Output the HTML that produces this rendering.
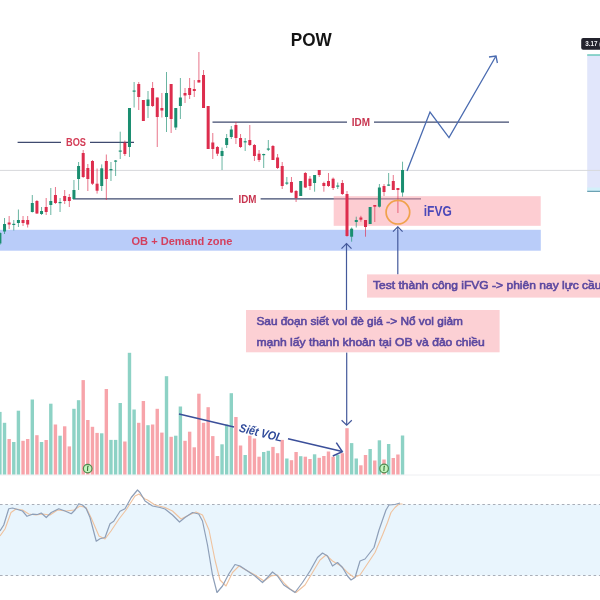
<!DOCTYPE html>
<html><head><meta charset="utf-8"><title>POW</title>
<style>
html,body{margin:0;padding:0;background:#ffffff;}
body{width:600px;height:600px;overflow:hidden;}
svg{display:block;font-family:"Liberation Sans",sans-serif;filter:blur(0.3px);}
</style></head>
<body>
<svg width="600" height="600" viewBox="0 0 600 600">
<rect width="600" height="600" fill="#ffffff"/>
<rect x="0" y="504.5" width="600" height="71" fill="#e9f5fd"/>
<line x1="0" y1="504.5" x2="600" y2="504.5" stroke="#a9aeb8" stroke-width="1" stroke-dasharray="2.6 2.7"/>
<line x1="0" y1="575.5" x2="600" y2="575.5" stroke="#a9aeb8" stroke-width="1" stroke-dasharray="2.6 2.7"/>
<line x1="0" y1="475" x2="600" y2="475" stroke="#eeeff2" stroke-width="1"/>
<rect x="587.2" y="55" width="12.8" height="136.5" fill="#e1e6fb"/>
<line x1="587.2" y1="55" x2="600" y2="55" stroke="#62c5b6" stroke-width="1.4"/>
<rect x="587.2" y="187.5" width="12.8" height="3.5" fill="#d3f0fa"/>
<line x1="587.2" y1="191.3" x2="600" y2="191.3" stroke="#4c8ea0" stroke-width="1"/>
<rect x="581.2" y="38" width="22" height="11.8" rx="2" fill="#23232d"/>
<text x="585.3" y="46.1" font-size="6.3" font-weight="bold" fill="#f4f4f6">3.17 (</text>
<line x1="0" y1="170.4" x2="600" y2="170.4" stroke="#d7d8dc" stroke-width="1"/>
<rect x="0" y="229.8" width="540.8" height="20.9" fill="#b9ccf9"/>
<line x1="17.6" y1="142.4" x2="61" y2="142.4" stroke="#3f4a6f" stroke-width="1.1"/>
<line x1="90" y1="142.4" x2="134" y2="142.4" stroke="#3f4a6f" stroke-width="1.1"/>
<line x1="212.5" y1="122.2" x2="347" y2="122.2" stroke="#3f4a6f" stroke-width="1.2"/>
<line x1="374" y1="122.2" x2="509" y2="122.2" stroke="#3f4a6f" stroke-width="1.2"/>
<line x1="73" y1="198.9" x2="233" y2="198.9" stroke="#3f4a6f" stroke-width="1.2"/>
<line x1="260.6" y1="198.9" x2="421" y2="198.9" stroke="#3f4a6f" stroke-width="1.2"/>
<rect x="333.7" y="196.2" width="207" height="29.6" fill="#fb9ba5" fill-opacity="0.5"/>
<line x1="-0.1" y1="232" x2="-0.1" y2="245" stroke="#1a8e70" stroke-width="1" stroke-opacity="0.65"/>
<rect x="-1.6" y="233" width="3" height="10.5" fill="#1a8e70"/>
<line x1="4.53" y1="218" x2="4.53" y2="234" stroke="#1a8e70" stroke-width="1" stroke-opacity="0.65"/>
<rect x="3.03" y="224" width="3" height="7.5" fill="#1a8e70"/>
<line x1="9.16" y1="216" x2="9.16" y2="229" stroke="#dd2d4d" stroke-width="1" stroke-opacity="0.65"/>
<rect x="7.66" y="222.5" width="3" height="2" fill="#dd2d4d"/>
<line x1="13.78" y1="220" x2="13.78" y2="230.5" stroke="#1a8e70" stroke-width="1" stroke-opacity="0.65"/>
<rect x="12.28" y="223.8" width="3" height="1.2" fill="#1a8e70"/>
<line x1="18.41" y1="209.5" x2="18.41" y2="227" stroke="#1a8e70" stroke-width="1" stroke-opacity="0.65"/>
<rect x="16.91" y="220" width="3" height="3" fill="#1a8e70"/>
<line x1="23.04" y1="216" x2="23.04" y2="226" stroke="#dd2d4d" stroke-width="1" stroke-opacity="0.65"/>
<rect x="21.54" y="220" width="3" height="3" fill="#dd2d4d"/>
<line x1="27.67" y1="216" x2="27.67" y2="227.5" stroke="#dd2d4d" stroke-width="1" stroke-opacity="0.65"/>
<rect x="26.17" y="220" width="3" height="4.5" fill="#dd2d4d"/>
<line x1="32.3" y1="195" x2="32.3" y2="212.5" stroke="#1a8e70" stroke-width="1" stroke-opacity="0.65"/>
<rect x="30.8" y="203" width="3" height="9" fill="#1a8e70"/>
<line x1="36.92" y1="200" x2="36.92" y2="214" stroke="#dd2d4d" stroke-width="1" stroke-opacity="0.65"/>
<rect x="35.42" y="201" width="3" height="12.5" fill="#dd2d4d"/>
<line x1="41.55" y1="207" x2="41.55" y2="215" stroke="#1a8e70" stroke-width="1" stroke-opacity="0.65"/>
<rect x="40.05" y="211" width="3" height="3" fill="#1a8e70"/>
<line x1="46.18" y1="198" x2="46.18" y2="215" stroke="#dd2d4d" stroke-width="1" stroke-opacity="0.65"/>
<rect x="44.68" y="207" width="3" height="5" fill="#dd2d4d"/>
<line x1="50.81" y1="188" x2="50.81" y2="215" stroke="#1a8e70" stroke-width="1" stroke-opacity="0.65"/>
<rect x="49.31" y="201" width="3" height="4" fill="#1a8e70"/>
<line x1="55.44" y1="187" x2="55.44" y2="204" stroke="#dd2d4d" stroke-width="1" stroke-opacity="0.65"/>
<rect x="53.94" y="195" width="3" height="8" fill="#dd2d4d"/>
<line x1="60.06" y1="198" x2="60.06" y2="212" stroke="#1a8e70" stroke-width="1" stroke-opacity="0.65"/>
<rect x="58.56" y="202" width="3" height="1.2" fill="#1a8e70"/>
<line x1="64.69" y1="190" x2="64.69" y2="204" stroke="#dd2d4d" stroke-width="1" stroke-opacity="0.65"/>
<rect x="63.19" y="196" width="3" height="5" fill="#dd2d4d"/>
<line x1="69.32" y1="194" x2="69.32" y2="207" stroke="#dd2d4d" stroke-width="1" stroke-opacity="0.65"/>
<rect x="67.82" y="197" width="3" height="4" fill="#dd2d4d"/>
<line x1="73.95" y1="180" x2="73.95" y2="199" stroke="#1a8e70" stroke-width="1" stroke-opacity="0.65"/>
<rect x="72.45" y="190" width="3" height="9" fill="#1a8e70"/>
<line x1="78.58" y1="162" x2="78.58" y2="190" stroke="#1a8e70" stroke-width="1" stroke-opacity="0.65"/>
<rect x="77.08" y="166" width="3" height="13" fill="#1a8e70"/>
<line x1="83.2" y1="150" x2="83.2" y2="178" stroke="#dd2d4d" stroke-width="1" stroke-opacity="0.65"/>
<rect x="81.7" y="153" width="3" height="24" fill="#dd2d4d"/>
<line x1="87.83" y1="164" x2="87.83" y2="191" stroke="#dd2d4d" stroke-width="1" stroke-opacity="0.65"/>
<rect x="86.33" y="168" width="3" height="11" fill="#dd2d4d"/>
<line x1="92.46" y1="160" x2="92.46" y2="185" stroke="#dd2d4d" stroke-width="1" stroke-opacity="0.65"/>
<rect x="90.96" y="161" width="3" height="22.7" fill="#dd2d4d"/>
<line x1="97.09" y1="168.5" x2="97.09" y2="193.6" stroke="#dd2d4d" stroke-width="1" stroke-opacity="0.65"/>
<rect x="95.59" y="183.7" width="3" height="7" fill="#dd2d4d"/>
<line x1="101.72" y1="164.4" x2="101.72" y2="191" stroke="#1a8e70" stroke-width="1" stroke-opacity="0.65"/>
<rect x="100.22" y="168.3" width="3" height="17.7" fill="#1a8e70"/>
<line x1="106.34" y1="154.5" x2="106.34" y2="200" stroke="#dd2d4d" stroke-width="1" stroke-opacity="0.65"/>
<rect x="104.84" y="161" width="3" height="18" fill="#dd2d4d"/>
<line x1="110.97" y1="162" x2="110.97" y2="181" stroke="#1a8e70" stroke-width="1" stroke-opacity="0.65"/>
<rect x="109.47" y="169" width="3" height="1.3" fill="#1a8e70"/>
<line x1="115.6" y1="160" x2="115.6" y2="176" stroke="#1a8e70" stroke-width="1" stroke-opacity="0.65"/>
<rect x="114.1" y="160.5" width="3" height="1.2" fill="#1a8e70"/>
<line x1="120.23" y1="131.7" x2="120.23" y2="159" stroke="#1a8e70" stroke-width="1" stroke-opacity="0.65"/>
<rect x="118.73" y="150.5" width="3" height="1.2" fill="#1a8e70"/>
<line x1="124.86" y1="140.5" x2="124.86" y2="156" stroke="#dd2d4d" stroke-width="1" stroke-opacity="0.65"/>
<rect x="123.36" y="142.8" width="3" height="11.2" fill="#dd2d4d"/>
<line x1="129.48" y1="108" x2="129.48" y2="157" stroke="#1a8e70" stroke-width="1" stroke-opacity="0.65"/>
<rect x="127.98" y="108" width="3" height="39" fill="#1a8e70"/>
<line x1="134.11" y1="82" x2="134.11" y2="107.5" stroke="#1a8e70" stroke-width="1" stroke-opacity="0.65"/>
<rect x="132.61" y="90.5" width="3" height="1.2" fill="#1a8e70"/>
<line x1="138.74" y1="82" x2="138.74" y2="110" stroke="#dd2d4d" stroke-width="1" stroke-opacity="0.65"/>
<rect x="137.24" y="84" width="3" height="13" fill="#dd2d4d"/>
<line x1="143.37" y1="100" x2="143.37" y2="121" stroke="#dd2d4d" stroke-width="1" stroke-opacity="0.65"/>
<rect x="141.87" y="100" width="3" height="21" fill="#dd2d4d"/>
<line x1="148" y1="91" x2="148" y2="118" stroke="#1a8e70" stroke-width="1" stroke-opacity="0.65"/>
<rect x="146.5" y="99.5" width="3" height="6.5" fill="#1a8e70"/>
<line x1="152.62" y1="82" x2="152.62" y2="107" stroke="#dd2d4d" stroke-width="1" stroke-opacity="0.65"/>
<rect x="151.12" y="88" width="3" height="18" fill="#dd2d4d"/>
<line x1="157.25" y1="97.5" x2="157.25" y2="147" stroke="#dd2d4d" stroke-width="1" stroke-opacity="0.65"/>
<rect x="155.75" y="97.5" width="3" height="19.5" fill="#dd2d4d"/>
<line x1="161.88" y1="93" x2="161.88" y2="117.5" stroke="#dd2d4d" stroke-width="1" stroke-opacity="0.65"/>
<rect x="160.38" y="108" width="3" height="2.5" fill="#dd2d4d"/>
<line x1="166.51" y1="72" x2="166.51" y2="132" stroke="#1a8e70" stroke-width="1" stroke-opacity="0.65"/>
<rect x="165.01" y="93" width="3" height="24" fill="#1a8e70"/>
<line x1="171.14" y1="84" x2="171.14" y2="133" stroke="#dd2d4d" stroke-width="1" stroke-opacity="0.65"/>
<rect x="169.64" y="84" width="3" height="35" fill="#dd2d4d"/>
<line x1="175.76" y1="108" x2="175.76" y2="130" stroke="#1a8e70" stroke-width="1" stroke-opacity="0.65"/>
<rect x="174.26" y="108" width="3" height="19.5" fill="#1a8e70"/>
<line x1="180.39" y1="78" x2="180.39" y2="119" stroke="#1a8e70" stroke-width="1" stroke-opacity="0.65"/>
<rect x="178.89" y="97.5" width="3" height="8.5" fill="#1a8e70"/>
<line x1="185.02" y1="88" x2="185.02" y2="103" stroke="#dd2d4d" stroke-width="1" stroke-opacity="0.65"/>
<rect x="183.52" y="93" width="3" height="2.5" fill="#dd2d4d"/>
<line x1="189.65" y1="78" x2="189.65" y2="99" stroke="#dd2d4d" stroke-width="1" stroke-opacity="0.65"/>
<rect x="188.15" y="88" width="3" height="7" fill="#dd2d4d"/>
<line x1="194.28" y1="80" x2="194.28" y2="97" stroke="#dd2d4d" stroke-width="1" stroke-opacity="0.65"/>
<rect x="192.78" y="89" width="3" height="2" fill="#dd2d4d"/>
<line x1="198.9" y1="52" x2="198.9" y2="82.5" stroke="#dd2d4d" stroke-width="1" stroke-opacity="0.65"/>
<rect x="197.4" y="80" width="3" height="2.5" fill="#dd2d4d"/>
<line x1="203.53" y1="70" x2="203.53" y2="108" stroke="#dd2d4d" stroke-width="1" stroke-opacity="0.65"/>
<rect x="202.03" y="75" width="3" height="33" fill="#dd2d4d"/>
<line x1="208.16" y1="106" x2="208.16" y2="149" stroke="#dd2d4d" stroke-width="1" stroke-opacity="0.65"/>
<rect x="206.66" y="106" width="3" height="43" fill="#dd2d4d"/>
<line x1="212.79" y1="133" x2="212.79" y2="159" stroke="#dd2d4d" stroke-width="1" stroke-opacity="0.65"/>
<rect x="211.29" y="142.5" width="3" height="6.5" fill="#dd2d4d"/>
<line x1="217.42" y1="146" x2="217.42" y2="156" stroke="#dd2d4d" stroke-width="1" stroke-opacity="0.65"/>
<rect x="215.92" y="147" width="3" height="6.7" fill="#dd2d4d"/>
<line x1="222.04" y1="147.5" x2="222.04" y2="170" stroke="#1a8e70" stroke-width="1" stroke-opacity="0.65"/>
<rect x="220.54" y="151" width="3" height="5" fill="#1a8e70"/>
<line x1="226.67" y1="134" x2="226.67" y2="148" stroke="#1a8e70" stroke-width="1" stroke-opacity="0.65"/>
<rect x="225.17" y="138" width="3" height="7" fill="#1a8e70"/>
<line x1="231.3" y1="126" x2="231.3" y2="139" stroke="#1a8e70" stroke-width="1" stroke-opacity="0.65"/>
<rect x="229.8" y="129.5" width="3" height="7.5" fill="#1a8e70"/>
<line x1="235.93" y1="122" x2="235.93" y2="144" stroke="#dd2d4d" stroke-width="1" stroke-opacity="0.65"/>
<rect x="234.43" y="125" width="3" height="13" fill="#dd2d4d"/>
<line x1="240.56" y1="134" x2="240.56" y2="148" stroke="#dd2d4d" stroke-width="1" stroke-opacity="0.65"/>
<rect x="239.06" y="138" width="3" height="9" fill="#dd2d4d"/>
<line x1="245.18" y1="138" x2="245.18" y2="151" stroke="#1a8e70" stroke-width="1" stroke-opacity="0.65"/>
<rect x="243.68" y="141.2" width="3" height="1.2" fill="#1a8e70"/>
<line x1="249.81" y1="125" x2="249.81" y2="146" stroke="#dd2d4d" stroke-width="1" stroke-opacity="0.65"/>
<rect x="248.31" y="140" width="3" height="5" fill="#dd2d4d"/>
<line x1="254.44" y1="144" x2="254.44" y2="161" stroke="#dd2d4d" stroke-width="1" stroke-opacity="0.65"/>
<rect x="252.94" y="145" width="3" height="11" fill="#dd2d4d"/>
<line x1="259.07" y1="150" x2="259.07" y2="162" stroke="#dd2d4d" stroke-width="1" stroke-opacity="0.65"/>
<rect x="257.57" y="153.7" width="3" height="6.3" fill="#dd2d4d"/>
<line x1="263.7" y1="153.7" x2="263.7" y2="168" stroke="#1a8e70" stroke-width="1" stroke-opacity="0.65"/>
<rect x="262.2" y="154" width="3" height="1.2" fill="#1a8e70"/>
<line x1="268.32" y1="140" x2="268.32" y2="151" stroke="#1a8e70" stroke-width="1" stroke-opacity="0.65"/>
<rect x="266.82" y="148.5" width="3" height="1.2" fill="#1a8e70"/>
<line x1="272.95" y1="145" x2="272.95" y2="160" stroke="#dd2d4d" stroke-width="1" stroke-opacity="0.65"/>
<rect x="271.45" y="146" width="3" height="14" fill="#dd2d4d"/>
<line x1="277.58" y1="154" x2="277.58" y2="169" stroke="#dd2d4d" stroke-width="1" stroke-opacity="0.65"/>
<rect x="276.08" y="157.5" width="3" height="10.5" fill="#dd2d4d"/>
<line x1="282.21" y1="162" x2="282.21" y2="189" stroke="#dd2d4d" stroke-width="1" stroke-opacity="0.65"/>
<rect x="280.71" y="166" width="3" height="20" fill="#dd2d4d"/>
<line x1="286.84" y1="177" x2="286.84" y2="185" stroke="#1a8e70" stroke-width="1" stroke-opacity="0.65"/>
<rect x="285.34" y="182.5" width="3" height="1.2" fill="#1a8e70"/>
<line x1="291.46" y1="177" x2="291.46" y2="193" stroke="#dd2d4d" stroke-width="1" stroke-opacity="0.65"/>
<rect x="289.96" y="182" width="3" height="10.5" fill="#dd2d4d"/>
<line x1="296.09" y1="190" x2="296.09" y2="202" stroke="#dd2d4d" stroke-width="1" stroke-opacity="0.65"/>
<rect x="294.59" y="191" width="3" height="7" fill="#dd2d4d"/>
<line x1="300.72" y1="181" x2="300.72" y2="196" stroke="#1a8e70" stroke-width="1" stroke-opacity="0.65"/>
<rect x="299.22" y="181" width="3" height="15" fill="#1a8e70"/>
<line x1="305.35" y1="172" x2="305.35" y2="188" stroke="#dd2d4d" stroke-width="1" stroke-opacity="0.65"/>
<rect x="303.85" y="173" width="3" height="14.5" fill="#dd2d4d"/>
<line x1="309.98" y1="176" x2="309.98" y2="190" stroke="#dd2d4d" stroke-width="1" stroke-opacity="0.65"/>
<rect x="308.48" y="178.7" width="3" height="7.3" fill="#dd2d4d"/>
<line x1="314.6" y1="175" x2="314.6" y2="191.7" stroke="#1a8e70" stroke-width="1" stroke-opacity="0.65"/>
<rect x="313.1" y="175" width="3" height="8" fill="#1a8e70"/>
<line x1="319.23" y1="170" x2="319.23" y2="177" stroke="#dd2d4d" stroke-width="1" stroke-opacity="0.65"/>
<rect x="317.73" y="170" width="3" height="5" fill="#dd2d4d"/>
<line x1="323.86" y1="181.7" x2="323.86" y2="191.7" stroke="#dd2d4d" stroke-width="1" stroke-opacity="0.65"/>
<rect x="322.36" y="183" width="3" height="3" fill="#dd2d4d"/>
<line x1="328.49" y1="173" x2="328.49" y2="187" stroke="#dd2d4d" stroke-width="1" stroke-opacity="0.65"/>
<rect x="326.99" y="181" width="3" height="5" fill="#dd2d4d"/>
<line x1="333.12" y1="177.5" x2="333.12" y2="190" stroke="#dd2d4d" stroke-width="1" stroke-opacity="0.65"/>
<rect x="331.62" y="178.7" width="3" height="9.3" fill="#dd2d4d"/>
<line x1="337.74" y1="182.5" x2="337.74" y2="189" stroke="#1a8e70" stroke-width="1" stroke-opacity="0.65"/>
<rect x="336.24" y="185.5" width="3" height="1.2" fill="#1a8e70"/>
<line x1="342.37" y1="180" x2="342.37" y2="195" stroke="#dd2d4d" stroke-width="1" stroke-opacity="0.65"/>
<rect x="340.87" y="183" width="3" height="11" fill="#dd2d4d"/>
<line x1="347" y1="191" x2="347" y2="236.7" stroke="#dd2d4d" stroke-width="1" stroke-opacity="0.65"/>
<rect x="345.5" y="194" width="3" height="42" fill="#dd2d4d"/>
<line x1="351.63" y1="227.5" x2="351.63" y2="241.7" stroke="#1a8e70" stroke-width="1" stroke-opacity="0.65"/>
<rect x="350.13" y="228.7" width="3" height="8" fill="#1a8e70"/>
<line x1="356.26" y1="216.7" x2="356.26" y2="227.5" stroke="#1a8e70" stroke-width="1" stroke-opacity="0.65"/>
<rect x="354.76" y="220" width="3" height="2" fill="#1a8e70"/>
<line x1="360.88" y1="215.8" x2="360.88" y2="221.7" stroke="#dd2d4d" stroke-width="1" stroke-opacity="0.65"/>
<rect x="359.38" y="217.5" width="3" height="2.2" fill="#dd2d4d"/>
<line x1="365.51" y1="220" x2="365.51" y2="236.7" stroke="#dd2d4d" stroke-width="1" stroke-opacity="0.65"/>
<rect x="364.01" y="220" width="3" height="7" fill="#dd2d4d"/>
<line x1="370.14" y1="207" x2="370.14" y2="224" stroke="#1a8e70" stroke-width="1" stroke-opacity="0.65"/>
<rect x="368.64" y="207" width="3" height="17" fill="#1a8e70"/>
<line x1="374.77" y1="205" x2="374.77" y2="222" stroke="#dd2d4d" stroke-width="1" stroke-opacity="0.65"/>
<rect x="373.27" y="205" width="3" height="1.7" fill="#dd2d4d"/>
<line x1="379.4" y1="184" x2="379.4" y2="207.5" stroke="#1a8e70" stroke-width="1" stroke-opacity="0.65"/>
<rect x="377.9" y="187.5" width="3" height="19.2" fill="#1a8e70"/>
<line x1="384.02" y1="184" x2="384.02" y2="196" stroke="#dd2d4d" stroke-width="1" stroke-opacity="0.65"/>
<rect x="382.52" y="186" width="3" height="6" fill="#dd2d4d"/>
<line x1="388.65" y1="173" x2="388.65" y2="186" stroke="#1a8e70" stroke-width="1" stroke-opacity="0.65"/>
<rect x="387.15" y="184.5" width="3" height="1.2" fill="#1a8e70"/>
<line x1="393.28" y1="175" x2="393.28" y2="190" stroke="#dd2d4d" stroke-width="1" stroke-opacity="0.65"/>
<rect x="391.78" y="181" width="3" height="9" fill="#dd2d4d"/>
<line x1="397.91" y1="188" x2="397.91" y2="213" stroke="#dd2d4d" stroke-width="1" stroke-opacity="0.65"/>
<rect x="396.41" y="188" width="3" height="2" fill="#dd2d4d"/>
<line x1="402.54" y1="161.7" x2="402.54" y2="196.7" stroke="#1a8e70" stroke-width="1" stroke-opacity="0.65"/>
<rect x="401.04" y="170" width="3" height="22.5" fill="#1a8e70"/>
<rect x="-1.8" y="411.9" width="3.4" height="62.6" fill="#8dd2c5"/>
<rect x="2.83" y="422.8" width="3.4" height="51.7" fill="#8dd2c5"/>
<rect x="7.46" y="439" width="3.4" height="35.5" fill="#f7a4aa"/>
<rect x="12.08" y="442" width="3.4" height="32.5" fill="#8dd2c5"/>
<rect x="16.71" y="410.7" width="3.4" height="63.8" fill="#8dd2c5"/>
<rect x="21.34" y="440.8" width="3.4" height="33.7" fill="#f7a4aa"/>
<rect x="25.97" y="439" width="3.4" height="35.5" fill="#f7a4aa"/>
<rect x="30.6" y="399.5" width="3.4" height="75" fill="#8dd2c5"/>
<rect x="35.22" y="435.2" width="3.4" height="39.3" fill="#f7a4aa"/>
<rect x="39.85" y="442" width="3.4" height="32.5" fill="#8dd2c5"/>
<rect x="44.48" y="440" width="3.4" height="34.5" fill="#f7a4aa"/>
<rect x="49.11" y="403.7" width="3.4" height="70.8" fill="#8dd2c5"/>
<rect x="53.74" y="424.5" width="3.4" height="50" fill="#f7a4aa"/>
<rect x="58.36" y="435.7" width="3.4" height="38.8" fill="#8dd2c5"/>
<rect x="62.99" y="426.3" width="3.4" height="48.2" fill="#f7a4aa"/>
<rect x="67.62" y="446.4" width="3.4" height="28.1" fill="#f7a4aa"/>
<rect x="72.25" y="408.8" width="3.4" height="65.7" fill="#8dd2c5"/>
<rect x="76.88" y="400.2" width="3.4" height="74.3" fill="#8dd2c5"/>
<rect x="81.5" y="380.1" width="3.4" height="94.4" fill="#f7a4aa"/>
<rect x="86.13" y="420" width="3.4" height="54.5" fill="#f7a4aa"/>
<rect x="90.76" y="426.8" width="3.4" height="47.7" fill="#f7a4aa"/>
<rect x="95.39" y="432.9" width="3.4" height="41.6" fill="#f7a4aa"/>
<rect x="100.02" y="433.3" width="3.4" height="41.2" fill="#8dd2c5"/>
<rect x="104.64" y="389" width="3.4" height="85.5" fill="#f7a4aa"/>
<rect x="109.27" y="439.9" width="3.4" height="34.6" fill="#8dd2c5"/>
<rect x="113.9" y="439.9" width="3.4" height="34.6" fill="#8dd2c5"/>
<rect x="118.53" y="403" width="3.4" height="71.5" fill="#8dd2c5"/>
<rect x="123.16" y="441.5" width="3.4" height="33" fill="#f7a4aa"/>
<rect x="127.78" y="352.8" width="3.4" height="121.7" fill="#8dd2c5"/>
<rect x="132.41" y="409.5" width="3.4" height="65" fill="#8dd2c5"/>
<rect x="137.04" y="422.8" width="3.4" height="51.7" fill="#f7a4aa"/>
<rect x="141.67" y="401" width="3.4" height="73.5" fill="#f7a4aa"/>
<rect x="146.3" y="425.2" width="3.4" height="49.3" fill="#8dd2c5"/>
<rect x="150.92" y="424.5" width="3.4" height="50" fill="#f7a4aa"/>
<rect x="155.55" y="408.8" width="3.4" height="65.7" fill="#f7a4aa"/>
<rect x="160.18" y="432.6" width="3.4" height="41.9" fill="#f7a4aa"/>
<rect x="164.81" y="376.2" width="3.4" height="98.3" fill="#8dd2c5"/>
<rect x="169.44" y="436.8" width="3.4" height="37.7" fill="#f7a4aa"/>
<rect x="174.06" y="435.7" width="3.4" height="38.8" fill="#8dd2c5"/>
<rect x="178.69" y="406.5" width="3.4" height="68" fill="#8dd2c5"/>
<rect x="183.32" y="440.8" width="3.4" height="33.7" fill="#f7a4aa"/>
<rect x="187.95" y="431.7" width="3.4" height="42.8" fill="#f7a4aa"/>
<rect x="192.58" y="447.3" width="3.4" height="27.2" fill="#f7a4aa"/>
<rect x="197.2" y="393.7" width="3.4" height="80.8" fill="#f7a4aa"/>
<rect x="201.83" y="422.8" width="3.4" height="51.7" fill="#f7a4aa"/>
<rect x="206.46" y="407.2" width="3.4" height="67.3" fill="#f7a4aa"/>
<rect x="211.09" y="436.1" width="3.4" height="38.4" fill="#f7a4aa"/>
<rect x="215.72" y="456" width="3.4" height="18.5" fill="#f7a4aa"/>
<rect x="220.34" y="444.3" width="3.4" height="30.2" fill="#8dd2c5"/>
<rect x="224.97" y="424.5" width="3.4" height="50" fill="#8dd2c5"/>
<rect x="229.6" y="393.2" width="3.4" height="81.3" fill="#8dd2c5"/>
<rect x="234.23" y="417" width="3.4" height="57.5" fill="#f7a4aa"/>
<rect x="238.86" y="445.5" width="3.4" height="29" fill="#f7a4aa"/>
<rect x="243.48" y="455" width="3.4" height="19.5" fill="#8dd2c5"/>
<rect x="248.11" y="435.7" width="3.4" height="38.8" fill="#f7a4aa"/>
<rect x="252.74" y="438.5" width="3.4" height="36" fill="#f7a4aa"/>
<rect x="257.37" y="456.7" width="3.4" height="17.8" fill="#f7a4aa"/>
<rect x="262" y="452" width="3.4" height="22.5" fill="#8dd2c5"/>
<rect x="266.62" y="450.8" width="3.4" height="23.7" fill="#8dd2c5"/>
<rect x="271.25" y="446.9" width="3.4" height="27.6" fill="#f7a4aa"/>
<rect x="275.88" y="453.2" width="3.4" height="21.3" fill="#f7a4aa"/>
<rect x="280.51" y="439.9" width="3.4" height="34.6" fill="#f7a4aa"/>
<rect x="285.14" y="458.5" width="3.4" height="16" fill="#8dd2c5"/>
<rect x="289.76" y="460.2" width="3.4" height="14.3" fill="#f7a4aa"/>
<rect x="294.39" y="452" width="3.4" height="22.5" fill="#f7a4aa"/>
<rect x="299.02" y="456.2" width="3.4" height="18.3" fill="#8dd2c5"/>
<rect x="303.65" y="456.7" width="3.4" height="17.8" fill="#f7a4aa"/>
<rect x="308.28" y="459" width="3.4" height="15.5" fill="#f7a4aa"/>
<rect x="312.9" y="454.3" width="3.4" height="20.2" fill="#8dd2c5"/>
<rect x="317.53" y="457.8" width="3.4" height="16.7" fill="#f7a4aa"/>
<rect x="322.16" y="456" width="3.4" height="18.5" fill="#f7a4aa"/>
<rect x="326.79" y="451.5" width="3.4" height="23" fill="#f7a4aa"/>
<rect x="331.42" y="456.7" width="3.4" height="17.8" fill="#f7a4aa"/>
<rect x="336.04" y="454.8" width="3.4" height="19.7" fill="#8dd2c5"/>
<rect x="340.67" y="453.2" width="3.4" height="21.3" fill="#f7a4aa"/>
<rect x="345.3" y="428.2" width="3.4" height="46.3" fill="#f7a4aa"/>
<rect x="349.93" y="443.1" width="3.4" height="31.4" fill="#8dd2c5"/>
<rect x="354.56" y="458.5" width="3.4" height="16" fill="#8dd2c5"/>
<rect x="359.18" y="465.3" width="3.4" height="9.2" fill="#f7a4aa"/>
<rect x="363.81" y="455" width="3.4" height="19.5" fill="#f7a4aa"/>
<rect x="368.44" y="449" width="3.4" height="25.5" fill="#8dd2c5"/>
<rect x="373.07" y="460.5" width="3.4" height="14" fill="#f7a4aa"/>
<rect x="377.7" y="440.3" width="3.4" height="34.2" fill="#8dd2c5"/>
<rect x="382.32" y="459.5" width="3.4" height="15" fill="#f7a4aa"/>
<rect x="386.95" y="444" width="3.4" height="30.5" fill="#8dd2c5"/>
<rect x="391.58" y="458" width="3.4" height="16.5" fill="#f7a4aa"/>
<rect x="396.21" y="454.5" width="3.4" height="20" fill="#f7a4aa"/>
<rect x="400.84" y="435.5" width="3.4" height="39" fill="#8dd2c5"/>
<polyline points="0,536 5,529 11,512.5 16,509 22.5,510 28.75,514 36,515 42.5,514 50,515 57.5,510 66,511 74,510 80,506 86,507.5 91,517.5 99,536 105,539 111,531 119,519 126,510 135,496 139,494 145,499 147.5,500 155,505 165,507.5 172.5,511 181,519 189,515 196,512 202.5,515 209,530 215,560 220,580 226,586 232.5,572.5 239,566 245,569.5 255,575 264,581 271,576 277.5,575 285,584 290,589 296,592.5 305,585 312.5,572.5 320,560 326,555 332.5,561 341,566 347.5,572.5 354,577.5 360,575 366,566 375,552.5 382.5,535 387.5,522.5 391,512.5 395,507.5 399,504 402.5,504" fill="none" stroke="#efc29e" stroke-width="1.1" stroke-linejoin="round"/>
<polyline points="0,531 3.75,525 8.75,508.75 12.5,508 17.5,509.5 22.5,511 27,516.3 32.5,514.2 37.5,514.5 41.25,513 46.25,517.5 51.25,512.5 58.75,508.75 65,511 71.25,513.75 75,510 78.75,503.75 82.5,505 86.25,508.75 90,517.5 96.25,541.25 100,538.75 105,537.5 110,523.75 113.75,521.25 120,511.25 125,508.75 131.25,497.5 137.5,490 140,492.5 145,501 152.5,506 160,507.5 165,509 172.5,515 179.5,522 185,517.5 192.5,512.5 198.75,514 202.5,521 207.5,545 212.5,575 217,592.5 222.5,586 228.75,574 235,564.5 240,566 247.5,571 255,576 262.5,582.5 267.5,577.5 272.5,572 277.5,576 283.75,585 287.5,587.5 295,592.5 302.5,582.5 310,571 317.5,557.5 322.5,553 327.5,556 332.5,566 337.5,562.5 342.5,567.5 347.5,576 351,580 355,577.5 360,561 365,559 374,547.5 379,530 382.5,520 386,510 389,505 395,504.5 400,503" fill="none" stroke="#8e9fb8" stroke-width="1.2" stroke-linejoin="round"/>
<polyline points="407,171 430,112 449,137.6 496,56" fill="none" stroke="#4a6bb0" stroke-width="1.3" stroke-linejoin="miter"/>
<polyline points="489,57 496,56 497.4,63" fill="none" stroke="#4a6bb0" stroke-width="1.3"/>
<circle cx="397.9" cy="212.2" r="11.8" fill="none" stroke="#f0a24c" stroke-width="1.7"/>
<line x1="397.8" y1="226.8" x2="397.8" y2="274.4" stroke="#44599b" stroke-width="1.2"/>
<polyline points="393,231.6 397.8,226.8 402.6,231.6" fill="none" stroke="#44599b" stroke-width="1.2"/>
<line x1="346.5" y1="243.5" x2="346.5" y2="310.5" stroke="#44599b" stroke-width="1.2"/>
<polyline points="341.5,248.6 346.5,243.5 351.5,248.6" fill="none" stroke="#44599b" stroke-width="1.2"/>
<line x1="346.7" y1="352.5" x2="346.7" y2="425" stroke="#44599b" stroke-width="1.2"/>
<polyline points="341.6,420.2 346.7,425.2 351.8,420.2" fill="none" stroke="#44599b" stroke-width="1.2"/>
<line x1="179" y1="414" x2="234" y2="427" stroke="#3b4f9a" stroke-width="1.5"/>
<line x1="288" y1="438.7" x2="342.3" y2="451.6" stroke="#3b4f9a" stroke-width="1.5"/>
<polyline points="336.3,442.6 342.3,451.6 332.8,456" fill="none" stroke="#3b4f9a" stroke-width="1.5"/>
<circle cx="87.7" cy="468.6" r="4.3" fill="#c6f4c0" stroke="#4f8c4f" stroke-width="1.2"/>
<path d="M87.4,466.40000000000003 L88.60000000000001,466.40000000000003 M87.7,466.40000000000003 L87.5,471.0" stroke="#3b7a3b" stroke-width="1.1" fill="none"/>
<circle cx="384.1" cy="468.5" r="4.3" fill="#c6f4c0" stroke="#4f8c4f" stroke-width="1.2"/>
<path d="M383.8,466.3 L385.0,466.3 M384.1,466.3 L383.90000000000003,470.9" stroke="#3b7a3b" stroke-width="1.1" fill="none"/>
<rect x="246" y="310" width="253.6" height="42.3" fill="#fcd0d4"/>
<rect x="367" y="274.4" width="240" height="23.2" fill="#fcd0d4"/>
<text x="290.8" y="46.4" font-size="19" font-weight="bold" font-style="normal" fill="#141414" textLength="41" lengthAdjust="spacingAndGlyphs">POW</text>
<text x="66" y="146" font-size="11" font-weight="bold" font-style="normal" fill="#d33b55" textLength="20" lengthAdjust="spacingAndGlyphs">BOS</text>
<text x="351.8" y="125.8" font-size="10.5" font-weight="bold" font-style="normal" fill="#c8344f" textLength="18.2" lengthAdjust="spacingAndGlyphs">IDM</text>
<text x="238.5" y="202.75" font-size="10.8" font-weight="bold" font-style="normal" fill="#c8344f" textLength="18" lengthAdjust="spacingAndGlyphs">IDM</text>
<text x="423.75" y="215.7" font-size="14" font-weight="bold" font-style="normal" fill="#4b48b8" textLength="28" lengthAdjust="spacingAndGlyphs">iFVG</text>
<text x="131.5" y="244.5" font-size="11.6" font-weight="bold" font-style="normal" fill="#d3405f" textLength="101" lengthAdjust="spacingAndGlyphs">OB + Demand zone</text>
<text x="373" y="288.6" font-size="11.8" font-weight="normal" font-style="normal" fill="#5b48a0" stroke="#5b48a0" stroke-width="0.6" textLength="228.5" lengthAdjust="spacingAndGlyphs">Test thành công iFVG -&gt; phiên nay lực cầu</text>
<text x="256.4" y="324.5" font-size="11.8" font-weight="normal" font-style="normal" fill="#5b48a0" stroke="#5b48a0" stroke-width="0.6" textLength="206.6" lengthAdjust="spacingAndGlyphs">Sau đoạn siết vol đè giá -&gt; Nổ vol giảm</text>
<text x="256.4" y="345.5" font-size="11.8" font-weight="normal" font-style="normal" fill="#5b48a0" stroke="#5b48a0" stroke-width="0.6" textLength="228.3" lengthAdjust="spacingAndGlyphs">mạnh lấy thanh khoản tại OB và đảo chiều</text>
<text x="0" y="0" font-size="12" font-weight="bold" font-style="italic" fill="#2f4a9a" textLength="44" lengthAdjust="spacingAndGlyphs" transform="translate(238.6,431.5) rotate(13.6)">Siết VOL</text>
</svg>
</body></html>
